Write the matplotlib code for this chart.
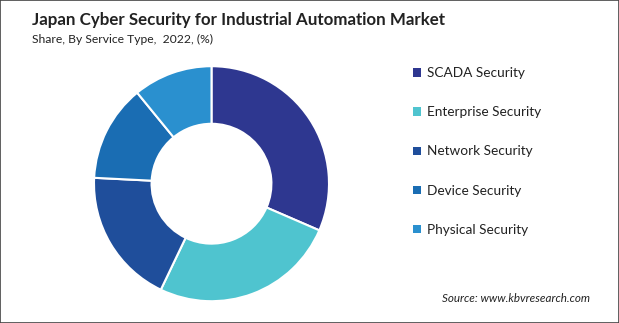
import matplotlib
matplotlib.use("Agg")
import matplotlib.pyplot as plt
from matplotlib.patches import Rectangle

plt.rcParams["font.family"] = ["Lato", "DejaVu Sans"]

# ─── 数据 ─────────────────────────────────────────────
segments = ["SCADA Security", "Enterprise Security", "Network Security",
            "Device Security", "Physical Security"]
shares = [31.5, 25.6, 18.7, 13.3, 10.9]
colors = ["#2E3790", "#4FC4CF", "#1F4E9B", "#1A6DB3", "#2A90CF"]

W, H = 619, 323
fig = plt.figure(figsize=(W / 100, H / 100), dpi=100)

# 外框
fig.add_artist(Rectangle((0, 0), 1, 1, transform=fig.transFigure, fill=False,
                         edgecolor="#444444", linewidth=1.2))

fig.text(32 / W, 1 - 20 / H, "Japan Cyber Security for Industrial Automation Market",
         fontsize=12.2, fontweight="bold", color="#222222", va="center", ha="left")
fig.text(32 / W, 1 - 39 / H, "Share, By Service Type,  2022, (%)",
         fontsize=8.7, color="#222222", va="center", ha="left")

# 环形图
cx, cy, r = 211.5, 139.3, 117.5
ax = fig.add_axes([(cx - r) / W, (cy - r) / H, 2 * r / W, 2 * r / H])
wedges, _ = ax.pie(shares, colors=colors, startangle=90, counterclock=False,
                   wedgeprops={"width": 0.49, "edgecolor": "white", "linewidth": 1.5})
ax.set_xlim(-1, 1)
ax.set_ylim(-1, 1)
ax.set_aspect("equal")
ax.axis("off")

leg = fig.legend(wedges, segments, loc="upper left", bbox_to_anchor=(401 / W, 1 - 55 / H),
                 frameon=False, fontsize=9.8, handlelength=0.55, handleheight=0.55,
                 handletextpad=0.45, labelspacing=1.99)
for h in leg.legend_handles:
    h.set_linewidth(0)
for t in leg.get_texts():
    t.set_color("#222222")

fig.text(590 / W, 1 - 299 / H, "Source: www.kbvresearch.com", fontsize=8.4,
         style="italic", color="#222222", ha="right", va="center")

fig.savefig("out.png", dpi=100)
